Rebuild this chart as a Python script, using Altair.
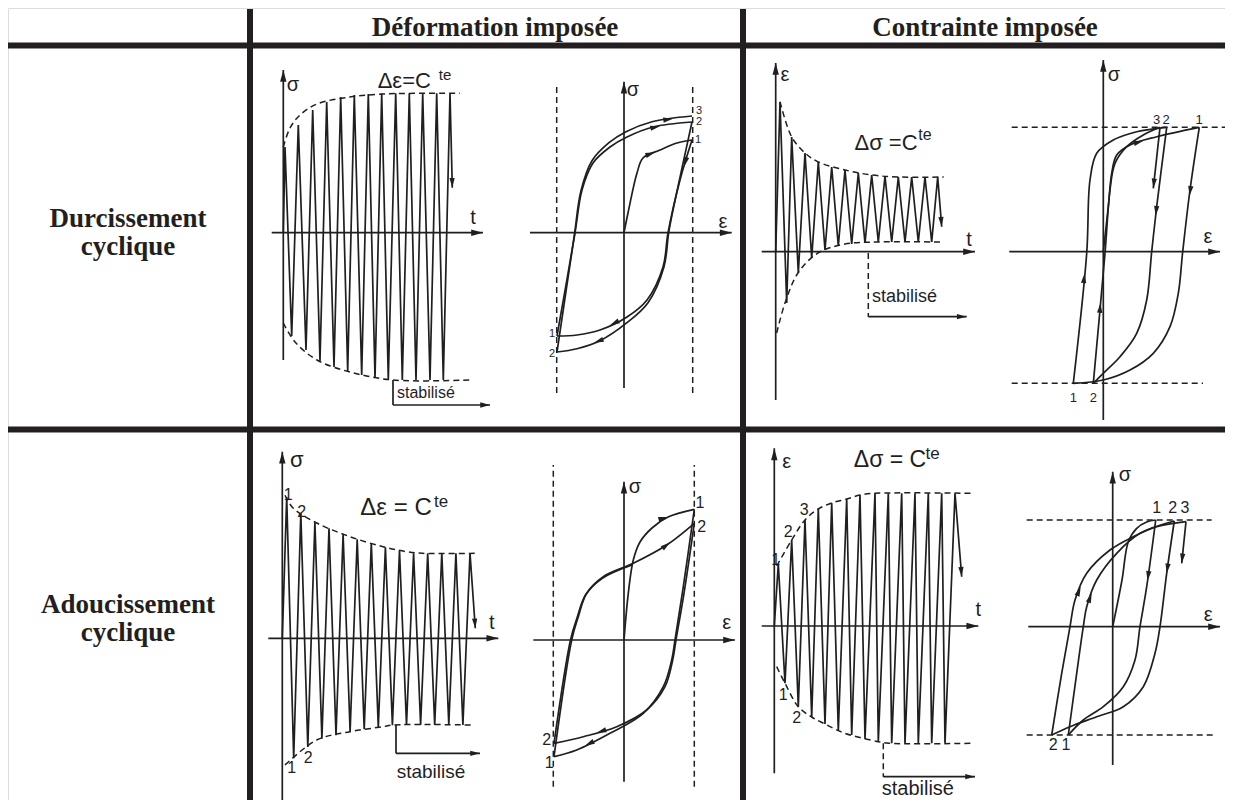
import math
import altair as alt
import pandas as pd

# ============================ texts ============================
col_headers = ["Déformation imposée", "Contrainte imposée"]
row_labels = [["Durcissement", "cyclique"], ["Adoucissement", "cyclique"]]
SIG, EPS, TT, STAB = "σ", "ε", "t", "stabilisé"

# ============ sketch values (origin = axes crossing, y upward) ============
# A : sigma(t), imposed strain, hardening
A_peak_t = [1.7, 15, 29.4, 43.4, 57.4, 71, 85, 98.4, 112.4, 126, 139.4, 153.4, 166.7]
A_peak_v = [85.7, 107.7, 122.7, 130.7, 135.7, 137.7, 138.7, 139.2, 139.4, 139.4, 139.4, 139.4, 139.4]
A_trough_t = [8.4, 22.7, 36.7, 50.7, 64.4, 78.4, 91.7, 105, 119, 132.7, 146.7, 160]
A_trough_v = [-103.3, -117.3, -128.3, -134.3, -138.8, -142.3, -145.3, -146.8, -147.3, -147.3, -147.3, -147.3]
A_end = (169, 45)
A_env_up = [(0, 85.7), (6.7, 104.7), (16.7, 117.7), (33.7, 128.7), (66.7, 135.7), (99.7, 138.7), (136.7, 139.4), (176.7, 139.4)]
A_env_lo = [(0, -90.3), (11.7, -109.3), (33.7, -127.3), (66.7, -139.3), (109.7, -147.3), (186.7, -147.3)]
A_stab = (109.7, -147.3, -172.3, 206.7)

# C : eps(t), imposed stress, hardening
C_peak_t = [4.3, 16, 29.3, 42.6, 56, 69.3, 82.6, 96, 109.3, 122.6, 136, 149.3, 162]
C_peak_v = [149.7, 114.7, 98.7, 89.7, 84.7, 81.7, 78.7, 76.7, 75.7, 74.7, 74.7, 74.7, 74.7]
C_trough_t = [11, 22.6, 36, 49.3, 62.6, 76, 89.3, 102.6, 116, 129.3, 142.6, 156]
C_trough_v = [-51.3, -21.3, -6.3, 1.7, 5.7, 7.7, 8.7, 9.7, 9.7, 9.7, 9.7, 9.7]
C_end = (166, 25)
C_env_up = [(4.3, 150), (16, 114.7), (29.3, 98.7), (42.6, 89.7), (69.3, 81.7), (96, 76.7), (122.6, 74.7), (168, 74.7)]
C_env_lo = [(1, -81.3), (9.3, -51.3), (22.3, -21.3), (42.3, -1.3), (69.3, 7.7), (102.3, 9.7), (166.3, 9.7)]
C_stab = (92.6, -1.3, -65, 191)

# E : sigma(t), imposed strain, softening
E_peak_t = [4.4, 18.5, 32.6, 46.7, 60.8, 74.9, 89, 103.1, 117.2, 131.3, 145.4, 159.5, 173.6, 187.7]
E_peak_v = [141.3, 125, 116, 110, 104, 99, 95, 91, 88, 85, 85, 85, 85, 85]
E_trough_t = [11.4, 25.5, 39.6, 53.7, 67.8, 81.9, 96, 110.1, 124.2, 138.3, 152.4, 166.5, 180.6]
E_trough_v = [-120, -108.7, -100.4, -96.9, -93.4, -90.9, -89.1, -86.8, -86.7, -86.7, -86.7, -86.7, -86.7]
E_end = (193, 10)
E_env_up = [(2.7, 143), (10.7, 130.3), (34.4, 115.3), (67.7, 101.6), (100.7, 91.6), (124.4, 86.6), (140, 85), (194.4, 85)]
E_env_lo = [(2.7, -126.7), (34.4, -101.7), (67.7, -93.4), (100.7, -88.4), (110.7, -86.7), (189.4, -86.7)]
E_stab = (113.7, -86.7, -115, 197.7)

# G : eps(t), imposed stress, softening
G_peak_t = [4, 17.4, 30.7, 44, 57.4, 72.4, 85.7, 100.7, 114, 127.4, 140.7, 154, 167.4, 180.7]
G_peak_v = [62, 86, 106, 117, 123, 127, 131, 132.7, 132.7, 132.7, 132.7, 132.7, 132.7, 132.7]
G_trough_t = [10.7, 24, 37.4, 50.7, 64, 77.4, 90.7, 104, 117.4, 130.7, 144, 157.4, 170.7]
G_trough_v = [-57.3, -80.7, -91, -98, -105, -109, -113, -116, -117.3, -117.3, -117.3, -117.3, -117.3]
G_end = (187.4, 49.3)
G_env_up = [(2.4, 60), (17.4, 86), (30.7, 106), (44, 117), (57.4, 123), (72.4, 127), (85.7, 131), (100.7, 132.7), (197.4, 132.7)]
G_env_lo = [(2.4, -40.7), (10.7, -57.3), (24, -80.7), (37.4, -91), (50.7, -98), (70.7, -107.3), (104, -115.7), (115, -117.3), (197.4, -117.3)]
G_stab = (109, -117.3, -150.7, 200.7)

# B : loop, imposed strain, hardening
B_limits = (-67.3, 68.7)
B_init = [(0, 0), (4, 19.7), (13, 59.7), (19, 74.7), (36, 82.7), (53, 89.7), (68, 92.7)]
B_branches = [
    [(68, 92.7), (56, 52.7), (44, -0.3), (39, -34.3), (23, -67.3), (3, -84.3), (-24, -97.3), (-47, -102.3), (-67, -103.3)],
    [(-67, -103.3), (-49, -0.3), (-42, 42.7), (-31, 69.7), (-14, 85.7), (3, 95.7), (29, 105.7), (68, 110.7)],
    [(68, 110.7), (57, 60), (45, 2), (40, -34), (24, -70), (3, -90), (-24, -108), (-47, -116), (-67, -119.3)],
    [(-67, -119.3), (-50, -5), (-43, 42), (-32, 72), (-15, 90), (2, 101), (28, 111), (68, 116.7)],
]
B_arrows = [(31, 80.5, 70), (36, 106.5, 78), (49, 114, 82), (60, 66, 196), (-14, -92.5, 244), (-30, -110, 250)]

# D : loop, imposed stress, hardening
D_limits = (124.4, -131.6)
D_init = [(0, 0), (5, 45), (8.4, 78.4), (13.4, 96.7), (26.7, 106.7), (53.4, 115), (96, 124.4)]
D_branches = [
    [(96, 124.4), (86.7, 61.7), (79.4, 0), (75, -41.6), (66.7, -75), (50, -101.6), (26.7, -118.3), (0, -128.3), (-30, -131.6)],
    [(-30, -131.6), (-16.6, -1.6), (-13.3, 71.7), (-6.6, 98.4), (10, 111.7), (33.4, 120), (63.4, 124.4)],
    [(63.4, 124.4), (53.4, 45), (48.4, 0), (43.4, -48.3), (33.4, -81.6), (16.7, -105), (0, -121.6), (-10, -131.6)],
    [(-10, -131.6), (1.7, -1.6), (6.7, 61.7), (11.7, 88.4), (23.4, 105), (40, 116.7), (56.7, 124.4)],
    [(56.7, 124.4), (50, 63.4)],
]
D_arrows = [(86.2, 56, 188), (52.4, 36, 186), (50, 63.4, 186), (-18.7, -21.6, 6), (-2.8, -51.3, 5), (40, 111, 73)]

# F : loop, imposed strain, softening
F_limits = (-70.7, 70.3)
F_init = [(0, 0), (4.3, 46.7), (9.3, 80), (16, 98), (28, 112), (44, 123), (70.3, 130.7)]
F_branches = [
    [(70.3, 130.7), (59.3, 53.3), (51, 0), (47.7, -20), (39.3, -46.7), (19.3, -73.3), (-14, -93.3), (-47.3, -110), (-70, -116.7)],
    [(-70, -116.7), (-52.3, 0), (-45.7, 23.3), (-37.3, 46.7), (-20.7, 63.3), (9.3, 76.7), (42.7, 95), (70.3, 116.7)],
    [(70.3, 116.7), (60, 46.7), (52, 0), (48.7, -20), (41, -46.7), (22.7, -70), (-7.3, -86.7), (-40.7, -96.7), (-70, -103.3)],
    [(-70, -103.3), (-53.5, 0), (-47, 22), (-38.5, 45), (-22, 61.5), (8, 75)],
]
F_arrows = [(44, 123, 75), (46, 97.6, 52), (-27.3, -92.7, 253), (-39, -105.8, 243)]

# H : loop, imposed stress, softening
H_limits = (106.7, -108.3)
H_init = [(0, 0), (9.3, 46.7), (15.6, 85), (24, 98.4), (34, 104.7), (43, 106.7)]
H_branches = [
    [(43, 106.7), (34, 40), (27.3, 0), (22.3, -33.3), (10.6, -60), (-9.4, -80), (-29.4, -93.3), (-44.4, -108.3)],
    [(-44.4, -108.3), (-36, -46.6), (-29.4, 0), (-26, 20), (-16, 46.7), (4, 73.4), (27.3, 93.4), (61.6, 105.7)],
    [(61.6, 105.7), (54, 53.4), (47.3, 0), (42.3, -26.6), (30.6, -60), (10.6, -80), (-16, -90), (-42.7, -100), (-61, -108.3)],
    [(-61, -108.3), (-51, -46.6), (-42.7, 0), (-37.7, 26.7), (-26, 53.4), (-2.7, 76.7), (20.6, 90), (44, 100), (73.3, 105)],
    [(73.3, 105), (69, 63.4)],
]
H_arrows = [(34.8, 46, 188), (54, 53.4, 188), (69, 63.4, 186), (-32, 40, 22), (-21, 33.4, 20)]

# ============================ layout ============================
ORIGIN = {"A": (283.3, 232.7), "B": (624, 232.7), "C": (775.7, 251.7), "D": (1103.3, 251.7),
          "E": (282.3, 638.3), "F": (624, 640), "G": (774.3, 626), "H": (1112.7, 626.7)}
AXIS_V = {"A": (-127.3, 162.7), "B": (-155.3, 151), "C": (-148.3, 188.7), "D": (-168.3, 191.7),
          "E": (-164.7, 186.6), "F": (-141.7, 158.3), "G": (-147.3, 177.7), "H": (-138.3, 155)}
AXIS_H = {"A": (-11.6, 199.7), "B": (-94, 107.7), "C": (-14, 199.3), "D": (-94, 116.7),
          "E": (-14, 216), "F": (-90.7, 111), "G": (-12.6, 204), "H": (-84.4, 107.3)}
LIMIT_SPAN = {"B": (-160.3, 147), "F": (-146.7, 175), "D": (-91.6, 128.4, 99.7), "H": (-86, 99, 104)}
STAB_TEXT = {"A": (113.7, -160.3, 16), "C": (96.3, -45, 18), "E": (114.4, -133.4, 19), "G": (107.4, -163, 20)}
SKETCH_TEXT = {
    "A": [(SIG, 9.7, 147.7, 20), (TT, 189.7, 14.7, 20), ("Δε=C", 121, 151.7, 22), ("te", 161.7, 157.7, 15)],
    "B": [(SIG, 9, 142.7, 20), (EPS, 99, 10.7, 20), ("3", 75, 122, 11), ("2", 75, 110.5, 11), ("1", 74, 92.7, 11),
          ("1", -72, -101.5, 11), ("2", -72, -121, 11)],
    "C": [(EPS, 9.3, 176.7, 20), (TT, 193.3, 11.7, 20), ("Δσ =C", 110.3, 108.7, 22), ("te", 149.3, 116.7, 16)],
    "D": [(SIG, 10.7, 176.7, 20), (EPS, 104.7, 15, 20), ("3", 53.4, 131.7, 13), ("2", 62.7, 131.7, 13),
          ("1", 95.7, 131.7, 13), ("1", -30, -146.6, 13), ("2", -10, -146.6, 13)],
    "E": [(SIG, 14.4, 178.3, 22), (TT, 209.4, 15.3, 20), ("Δε = C", 113.7, 130, 24), ("te", 158.7, 136.8, 17),
          ("1", 6, 143.3, 16), ("2", 19.4, 126.6, 16), ("1", 9.4, -130, 16), ("2", 26, -120, 16)],
    "F": [(SIG, 11, 153.3, 20), (EPS, 102.7, 16.7, 20), ("1", 76, 136.7, 16), ("2", 77.7, 113.3, 16),
          ("2", -77.3, -100, 16), ("1", -74.7, -123.3, 16)],
    "G": [(EPS, 12.4, 164.3, 20), (TT, 204, 16, 20), ("Δσ = C", 115.7, 166, 23), ("te", 158.2, 172, 17),
          ("1", 1.4, 66, 16), ("2", 14, 94.3, 16), ("3", 30, 116, 16), ("1", 9, -69, 16), ("2", 22.4, -92.3, 16)],
    "H": [(SIG, 12.3, 151.7, 20), (EPS, 95.6, 11.7, 20), ("1", 44, 118.4, 16), ("2", 60, 118.4, 16),
          ("3", 72.3, 118.4, 16), ("2", -59.4, -118.3, 16), ("1", -46.7, -118.3, 16)],
}
TABLE_H = [45.5, 429.5]
TABLE_V = [250, 743]
HEADER_POS = [(495, 28), (985, 28)]
ROW_POS = [(128, 219, 247), (128, 605, 633)]
INK = "#1f1f1f"

# ============================ build records ============================
lin, smo, dsh, hd, tc, tl = [], [], [], [], [], []
gid = [0]


def P(sk, x, y):
    ox, oy = ORIGIN[sk]
    return ox + x, oy - y


def poly(rows, sk, pts):
    gid[0] += 1
    for i, (x, y) in enumerate(pts):
        gx, gy = P(sk, x, y)
        rows.append({"g": gid[0], "o": i, "x": gx, "y": gy})


def head(sk, x, y, ang, s=380):
    gx, gy = P(sk, x, y)
    hd.append({"x": gx, "y": gy, "a": ang % 360, "s": s})


def direction(p, q):
    return math.degrees(math.atan2(q[0] - p[0], q[1] - p[1])) % 360


for sk in ORIGIN:
    v0, v1 = AXIS_V[sk]
    h0, h1 = AXIS_H[sk]
    poly(lin, sk, [(0, v0), (0, v1)])
    head(sk, 0, v1, 0, 560)
    poly(lin, sk, [(h0, 0), (h1, 0)])
    head(sk, h1, 0, 90, 560)
    for (s, x, y, fs) in SKETCH_TEXT[sk]:
        gx, gy = P(sk, x, y)
        tc.append({"x": gx, "y": gy, "t": s, "fs": fs})

series = {"A": (A_peak_t, A_peak_v, A_trough_t, A_trough_v, A_end, A_env_up, A_env_lo, A_stab, False),
          "C": (C_peak_t, C_peak_v, C_trough_t, C_trough_v, C_end, C_env_up, C_env_lo, C_stab, True),
          "E": (E_peak_t, E_peak_v, E_trough_t, E_trough_v, E_end, E_env_up, E_env_lo, E_stab, False),
          "G": (G_peak_t, G_peak_v, G_trough_t, G_trough_v, G_end, G_env_up, G_env_lo, G_stab, True)}
for sk, (pt, pv, trt, trv, end, eu, el, stab, stab_dashed) in series.items():
    pts = [(0, 0)]
    for i in range(len(pt)):
        pts.append((pt[i], pv[i]))
        if i < len(trt):
            pts.append((trt[i], trv[i]))
    pts.append(end)
    poly(lin, sk, pts)
    head(sk, end[0], end[1], direction(pts[-2], pts[-1]))
    poly(dsh, sk, eu)
    poly(dsh, sk, el)
    t0, top, lvl, tend = stab
    poly(dsh if stab_dashed else lin, sk, [(t0, top), (t0, lvl)])
    poly(lin, sk, [(t0, lvl), (tend, lvl)])
    head(sk, tend, lvl, 90)
    x, y, fs = STAB_TEXT[sk]
    gx, gy = P(sk, x, y)
    tl.append({"x": gx, "y": gy, "t": STAB, "fs": fs})

loops = {"B": (B_init, B_branches, B_arrows), "D": (D_init, D_branches, D_arrows),
         "F": (F_init, F_branches, F_arrows), "H": (H_init, H_branches, H_arrows)}
for sk, (init, branches, arrows) in loops.items():
    poly(smo, sk, init)
    for br in branches:
        poly(smo if len(br) > 2 else lin, sk, br)
    for (x, y, a) in arrows:
        head(sk, x, y, a)

for sk, lim in {"B": B_limits, "F": F_limits}.items():
    y0, y1 = LIMIT_SPAN[sk]
    for xv in lim:
        poly(dsh, sk, [(xv, y0), (xv, y1)])
for sk, lim in {"D": D_limits, "H": H_limits}.items():
    x0, x1a, x1b = LIMIT_SPAN[sk]
    poly(dsh, sk, [(x0, lim[0]), (x1a, lim[0])])
    poly(dsh, sk, [(x0, lim[1]), (x1b, lim[1])])

rules = [{"x": 7, "x2": 1233, "y": yv, "y2": yv} for yv in TABLE_H] + \
        [{"x": xv, "x2": xv, "y": 9, "y2": 808} for xv in TABLE_V]
htxt = [{"x": p[0], "y": p[1], "t": h} for h, p in zip(col_headers, HEADER_POS)]
rtxt = []
for lbl, (x, y1, y2) in zip(row_labels, ROW_POS):
    rtxt.append({"x": x, "y": y1, "t": lbl[0]})
    rtxt.append({"x": x, "y": y2, "t": lbl[1]})

# ============================ chart ============================
XS = alt.Scale(domain=[8, 1225], nice=False, zero=False)
YS = alt.Scale(domain=[8, 800], nice=False, zero=False, reverse=True)
X = alt.X("x:Q", scale=XS, axis=None)
Y = alt.Y("y:Q", scale=YS, axis=None)

table = alt.Chart(pd.DataFrame(rules)).mark_rule(color="#231f20", strokeWidth=6).encode(
    x=X, y=Y, x2="x2:Q", y2="y2:Q")
lines = alt.Chart(pd.DataFrame(lin)).mark_line(color=INK, strokeWidth=1.7).encode(
    x=X, y=Y, detail="g:N", order="o:Q")
smooth = alt.Chart(pd.DataFrame(smo)).mark_line(color=INK, strokeWidth=1.7, interpolate="catmull-rom").encode(
    x=X, y=Y, detail="g:N", order="o:Q")
dashed = alt.Chart(pd.DataFrame(dsh)).mark_line(color=INK, strokeWidth=1.5, strokeDash=[6, 4],
                                                interpolate="catmull-rom").encode(
    x=X, y=Y, detail="g:N", order="o:Q")
heads = alt.Chart(pd.DataFrame(hd)).mark_point(shape="M0,0L0.27,1L-0.27,1Z", filled=True, opacity=1,
                                               color=INK, strokeWidth=0).encode(
    x=X, y=Y, angle=alt.Angle("a:Q", scale=None), size=alt.Size("s:Q", scale=None))
texts = alt.Chart(pd.DataFrame(tc)).mark_text(font="Liberation Sans", color=INK, align="center",
                                              baseline="middle").encode(
    x=X, y=Y, text="t:N", size=alt.Size("fs:Q", scale=None))
ltexts = alt.Chart(pd.DataFrame(tl)).mark_text(font="Liberation Sans", color=INK, align="left",
                                               baseline="middle").encode(
    x=X, y=Y, text="t:N", size=alt.Size("fs:Q", scale=None))
htexts = alt.Chart(pd.DataFrame(htxt)).mark_text(font="Liberation Serif", fontWeight="bold", fontSize=27,
                                                 color="#231f20", align="center", baseline="middle").encode(
    x=X, y=Y, text="t:N")
rtexts = alt.Chart(pd.DataFrame(rtxt)).mark_text(font="Liberation Serif", fontWeight="bold", fontSize=27,
                                                 color="#231f20", align="center", baseline="middle").encode(
    x=X, y=Y, text="t:N")

chart = alt.layer(table, dashed, lines, smooth, heads, texts, ltexts, htexts, rtexts).properties(
    width=1217, height=792, padding=0, autosize=alt.AutoSizeParams(type="none")
).configure_view(stroke=None).configure(background="white")

chart.save("out.html", embed_options={"renderer": "svg", "actions": False})
